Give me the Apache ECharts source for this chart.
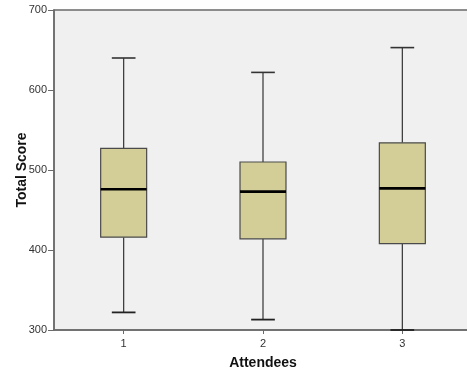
<!DOCTYPE html>
<html>
<head>
<meta charset="utf-8">
<style>
  html, body { margin: 0; padding: 0; background: #ffffff; overflow: hidden; }
  #chart { width: 472px; height: 371px; }
</style>
<script src="https://cdn.jsdelivr.net/npm/echarts@6/dist/echarts.min.js"></script>
</head>
<body>
<div id="chart"></div>
<script>
// Attendee groups and their Total Score five-number summaries
const categories = ['1', '2', '3'];
const whiskerLow = [322, 313, 300];
const quartile1  = [416, 414, 408];
const medians    = [476, 473, 477];
const quartile3  = [527, 510, 534];
const whiskerHigh = [640, 622, 653];
const yTicks = [300, 400, 500, 600, 700];

const boxData = categories.map((c, i) => [i, whiskerLow[i], quartile1[i], medians[i], quartile3[i], whiskerHigh[i]]);

const chart = echarts.init(document.getElementById('chart'));

function renderBox(params, api) {
  const x = api.value(0);
  const band = api.size([1, 0])[0];
  const boxW = band * 0.33;
  const capW = band * 0.17;
  const pLow = api.coord([x, api.value(1)]);
  const pQ1 = api.coord([x, api.value(2)]);
  const pMed = api.coord([x, api.value(3)]);
  const pQ3 = api.coord([x, api.value(4)]);
  const pHigh = api.coord([x, api.value(5)]);
  const cx = pQ1[0];
  const lineStyle = { stroke: '#333333', lineWidth: 1.2 };
  return {
    type: 'group',
    children: [
      { type: 'line', shape: { x1: cx, y1: pHigh[1], x2: cx, y2: pQ3[1] }, style: lineStyle },
      { type: 'line', shape: { x1: cx, y1: pQ1[1], x2: cx, y2: pLow[1] }, style: lineStyle },
      { type: 'line', shape: { x1: cx - capW / 2, y1: pHigh[1], x2: cx + capW / 2, y2: pHigh[1] }, style: { stroke: '#333333', lineWidth: 1.6 } },
      { type: 'line', shape: { x1: cx - capW / 2, y1: pLow[1], x2: cx + capW / 2, y2: pLow[1] }, style: { stroke: '#222222', lineWidth: 1.8 } },
      { type: 'rect', shape: { x: cx - boxW / 2, y: pQ3[1], width: boxW, height: pQ1[1] - pQ3[1] },
        style: { fill: '#D3CE98', stroke: '#4a4a4a', lineWidth: 1.2 } },
      { type: 'line', shape: { x1: cx - boxW / 2, y1: pMed[1], x2: cx + boxW / 2, y2: pMed[1] },
        style: { stroke: '#000000', lineWidth: 2.6 } }
    ]
  };
}

chart.setOption({
  animation: false,
  backgroundColor: '#ffffff',
  grid: {
    left: 54, right: 0, top: 10, bottom: 41,
    containLabel: false,
    outerBoundsMode: 'none',
    show: true, backgroundColor: '#F0F0F0', borderColor: '#6a6a6a', borderWidth: 1.5
  },
  xAxis: {
    type: 'category',
    data: categories,
    name: 'Attendees',
    nameLocation: 'middle',
    nameGap: 26,
    nameTextStyle: { fontFamily: 'Liberation Sans', fontWeight: 'bold', fontSize: 14, color: '#111111' },
    axisLine: { show: true, lineStyle: { color: '#6a6a6a', width: 1.5 } },
    axisTick: { show: true, alignWithLabel: true, length: 4, lineStyle: { color: '#6a6a6a' } },
    axisLabel: { fontFamily: 'Liberation Sans', fontSize: 11, color: '#333333', margin: 8 },
    splitLine: { show: false }
  },
  yAxis: {
    type: 'value',
    min: yTicks[0],
    max: yTicks[yTicks.length - 1],
    interval: 100,
    name: 'Total Score',
    nameLocation: 'middle',
    nameGap: 25,
    nameMoveOverlap: false,
    nameRotate: 90,
    nameTextStyle: { fontFamily: 'Liberation Sans', fontWeight: 'bold', fontSize: 14, color: '#111111' },
    axisLine: { show: true, lineStyle: { color: '#6a6a6a', width: 1.5 } },
    axisTick: { show: true, length: 6, lineStyle: { color: '#6a6a6a' } },
    axisLabel: { fontFamily: 'Liberation Sans', fontSize: 11, color: '#333333', margin: 7 },
    splitLine: { show: false }
  },
  series: [{
    type: 'custom',
    renderItem: renderBox,
    encode: { x: 0, y: [1, 2, 3, 4, 5] },
    data: boxData,
    clip: false
  }]
});
</script>
</body>
</html>
